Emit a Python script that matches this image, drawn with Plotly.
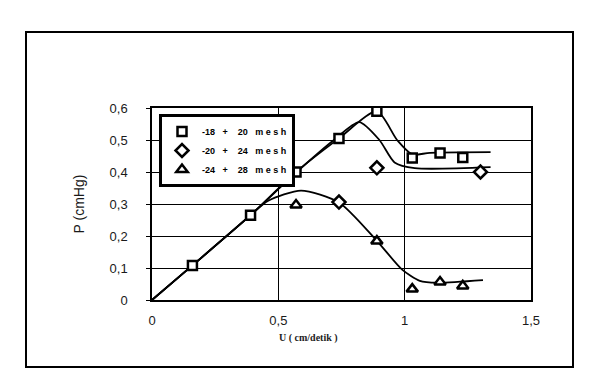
import plotly.graph_objects as go

# ---- data ----
# measured points
sq_x = [0.16, 0.39, 0.57, 0.74, 0.89, 1.03, 1.14, 1.23]
sq_y = [0.108, 0.265, 0.40, 0.505, 0.59, 0.444, 0.459, 0.445]
di_x = [0.74, 0.89, 1.30]
di_y = [0.306, 0.413, 0.40]
tr_x = [0.57, 0.89, 1.03, 1.14, 1.23]
tr_y = [0.297, 0.184, 0.034, 0.056, 0.044]

# smoothed trend curves
c1_x = [0, 0.16, 0.39, 0.57, 0.74, 0.89, 0.97, 1.03, 1.10, 1.34]
c1_y = [0, 0.108, 0.265, 0.40, 0.505, 0.59, 0.50, 0.455, 0.46, 0.462]
c2_x = [0, 0.16, 0.39, 0.57, 0.72, 0.82, 0.90, 0.96, 1.04, 1.34]
c2_y = [0, 0.108, 0.265, 0.398, 0.50, 0.556, 0.50, 0.43, 0.412, 0.415]
c3_x = [0, 0.16, 0.39, 0.46, 0.59, 0.74, 0.89, 0.99, 1.06, 1.13, 1.31]
c3_y = [0, 0.108, 0.265, 0.31, 0.342, 0.305, 0.185, 0.095, 0.06, 0.054, 0.062]

NB = "\u00a0"
names = [f"-18{NB*3}+{NB*4}20{NB*3}m{NB}e{NB}s{NB}h",
         f"-20{NB*3}+{NB*4}24{NB*3}m{NB}e{NB}s{NB}h",
         f"-24{NB*3}+{NB*4}28{NB*3}m{NB}e{NB}s{NB}h"]

x_ticks = [0, 0.5, 1, 1.5]
y_ticks = [0, 0.1, 0.2, 0.3, 0.4, 0.5, 0.6]

fig = go.Figure()

for cx, cy in [(c1_x, c1_y), (c2_x, c2_y), (c3_x, c3_y)]:
    fig.add_trace(go.Scatter(x=cx, y=cy, mode="lines",
                             line=dict(color="black", width=1.8, shape="spline", smoothing=0.7),
                             showlegend=False, hoverinfo="skip"))

mk = dict(color="white", line=dict(color="black", width=2.5))
fig.add_trace(go.Scatter(x=sq_x, y=sq_y, mode="markers", name=names[0],
                         marker=dict(symbol="square", size=9, **mk)))
fig.add_trace(go.Scatter(x=di_x, y=di_y, mode="markers", name=names[1],
                         marker=dict(symbol="diamond", size=10, **mk)))
fig.add_trace(go.Scatter(x=tr_x, y=tr_y, mode="markers", name=names[2],
                         marker=dict(symbol="triangle-up", size=10, **mk)))

L, R, T, B = 152, 61, 108, 87
W, H = 592, 387
pw, ph = W - L - R, H - T - B

def px(v):
    return (v - L) / pw

def py(v):
    return (H - B - v) / ph

fig.update_layout(
    width=W, height=H,
    margin=dict(l=L, r=R, t=T, b=B),
    paper_bgcolor="white", plot_bgcolor="white",
    separators=", ",
    font=dict(family="Arial, Liberation Sans, sans-serif", color="#1a1a1a"),
    showlegend=True,
    legend=dict(x=px(159), y=py(114), xanchor="left", yanchor="top",
                bgcolor="white", bordercolor="black", borderwidth=3,
                font=dict(size=9, family="Arial, Liberation Sans, sans-serif", color="black",
                          weight="bold"),
                itemwidth=30, tracegroupgap=0),
    shapes=[dict(type="rect", xref="paper", yref="paper",
                 x0=px(26), x1=px(573), y0=py(367), y1=py(32),
                 line=dict(color="black", width=2), layer="below")],
    annotations=[dict(text="U ( cm/detik )", xref="paper", yref="paper",
                      x=px(308), y=py(346), showarrow=False,
                      font=dict(size=10, family="Liberation Serif, serif", color="#222",
                                weight="bold"))],
)

fig.update_xaxes(range=[0, 1.5], tickvals=x_ticks, showgrid=True, gridcolor="black", gridwidth=1.3,
                 showline=True, linecolor="black", linewidth=1.5, mirror=True, zeroline=False,
                 ticks="", tickfont=dict(size=13), ticklabelstandoff=8)
fig.update_yaxes(range=[0, 0.6], tickvals=y_ticks, showgrid=True, gridcolor="black", gridwidth=1.3,
                 showline=True, linecolor="black", linewidth=1.5, mirror=True, zeroline=False,
                 ticks="outside", ticklen=4, tickcolor="black", tickfont=dict(size=13),
                 ticklabelstandoff=16,
                 title=dict(text="P (cmHg)", font=dict(size=14), standoff=22))

fig.write_html("out.html")
